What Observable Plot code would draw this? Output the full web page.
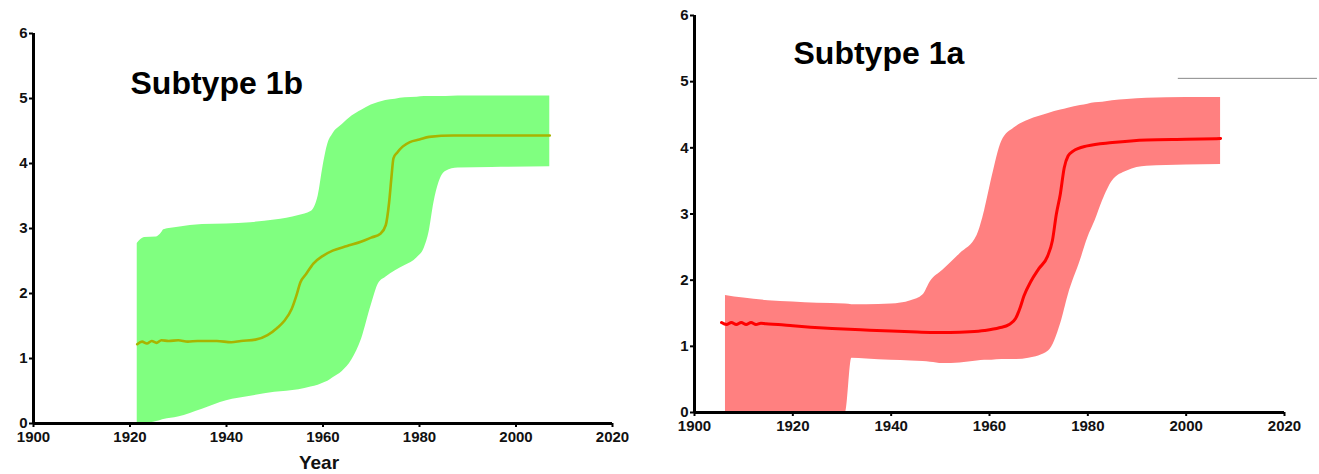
<!DOCTYPE html>
<html><head><meta charset="utf-8">
<script src="https://cdn.jsdelivr.net/npm/d3@7"></script>
<script src="https://cdn.jsdelivr.net/npm/@observablehq/plot@0.6"></script>
<style>
body{margin:0;background:#fff}
#wrap{position:relative;width:1319px;height:474px;overflow:hidden}
#left{position:absolute;left:0;top:0}
#right{position:absolute;left:660px;top:0}
</style>
</head><body><div id="wrap"><div id="left"></div><div id="right"></div></div>
<script>
const xTicks = [1900, 1920, 1940, 1960, 1980, 2000, 2020];
const yTicks = [0, 1, 2, 3, 4, 5, 6];

// Subtype 1b (green)
const bBandYears = [1921.5,1923,1925.5,1926.5,1927,1930,1935,1940,1945,1950,1955,1957.5,1959,1960,1961,1962,1964,1966,1968,1970,1971.5,1973,1975,1977,1979.5,1981,1982,1983,1984,1985.5,1988,1995,2007];
const bUpper     = [2.77,2.86,2.87,2.93,2.98,3.02,3.06,3.07,3.09,3.13,3.2,3.26,3.5,3.95,4.3,4.45,4.6,4.73,4.82,4.9,4.94,4.97,4.99,5.01,5.02,5.03,5.03,5.03,5.03,5.03,5.04,5.04,5.04];
const bLower     = [0,0,0.03,0.05,0.06,0.1,0.22,0.35,0.42,0.48,0.52,0.56,0.59,0.62,0.65,0.7,0.8,0.98,1.3,1.82,2.15,2.25,2.35,2.43,2.55,2.7,2.95,3.4,3.7,3.88,3.93,3.94,3.95];
const bMeanYears = [1921.5,1922.5,1923.5,1924.5,1925.5,1926.5,1928,1930,1932,1934,1938,1941,1943,1946,1948.5,1950.5,1952,1953.5,1954.5,1955.3,1956.5,1958,1960,1962,1965,1968,1970,1971.9,1973,1973.7,1974.2,1974.6,1975.4,1976.5,1978,1980,1982,1987,2007];
const bMean      = [1.22,1.26,1.23,1.27,1.24,1.28,1.27,1.28,1.26,1.27,1.27,1.25,1.27,1.29,1.36,1.47,1.58,1.76,1.97,2.17,2.3,2.46,2.58,2.66,2.73,2.8,2.86,2.92,3.05,3.4,3.8,4.08,4.17,4.26,4.33,4.37,4.41,4.43,4.43];

// Subtype 1a (red)
const aBandYears = [1906.3,1910,1915,1920,1925,1930.7,1932,1935,1940,1944,1946.5,1948,1950.5,1954,1957.5,1959,1960.5,1962.5,1965,1968,1972,1974.5,1976,1978.5,1980,1981.5,1983,1985,1988,1992,2000,2007];
const aUpper     = [1.77,1.73,1.69,1.67,1.65,1.64,1.63,1.63,1.64,1.69,1.78,1.98,2.15,2.4,2.68,3.05,3.55,4.1,4.3,4.42,4.52,4.57,4.6,4.64,4.66,4.68,4.69,4.71,4.73,4.75,4.76,4.76];
const aLower     = [0,0,0,0,0,0,0.82,0.81,0.79,0.78,0.77,0.76,0.74,0.75,0.78,0.79,0.79,0.8,0.8,0.82,0.93,1.35,1.77,2.3,2.64,2.9,3.2,3.5,3.65,3.72,3.74,3.75];
const aMeanYears = [1905.5,1906.5,1907.5,1908.5,1909.5,1910.5,1911.5,1912.5,1913.5,1914.5,1917,1920,1923.6,1928,1933.8,1940,1944,1948,1952,1956,1959,1962,1964,1965.3,1966.3,1967,1968.4,1970,1971.8,1972.8,1973.6,1974.4,1975.2,1976,1977,1979.9,1985,1992,2000,2007];
const aMean      = [1.36,1.33,1.36,1.33,1.36,1.33,1.36,1.33,1.35,1.34,1.33,1.31,1.29,1.27,1.25,1.23,1.22,1.21,1.21,1.22,1.24,1.28,1.33,1.42,1.6,1.76,1.98,2.17,2.36,2.6,3.0,3.3,3.7,3.88,3.95,4.03,4.08,4.12,4.13,4.14];

// stray grey rule at top right of the second panel
const strayY = [5.05];
const strayX = [1998.4, 2026.7];

const titles = ["Subtype 1b", "Subtype 1a"];
const xLabel = "Year";

function band(years, lo, hi) { return years.map((year, i) => ({year, lower: lo[i], upper: hi[i]})); }
function series(years, v) { return years.map((year, i) => ({year, value: v[i]})); }

function panel(o) {
  const marks = [
    Plot.areaY(o.band, {x: "year", y1: "lower", y2: "upper", fill: o.fill, curve: "monotone-x"}),
    Plot.line(o.mean, {x: "year", y: "value", stroke: o.stroke, strokeWidth: o.lineWidth, curve: "monotone-x"}),
    Plot.ruleY([0], {x1: 1900, x2: 2020, stroke: "#000", strokeWidth: 3}),
    Plot.ruleX([1900], {y1: 0, y2: 6, stroke: "#000", strokeWidth: 3}),
    Plot.axisX({ticks: xTicks, tickSize: 4, tickPadding: 4, tickFormat: d => String(d), stroke: "#000", strokeWidth: 2, fill: "#111", fontSize: 15, fontWeight: "bold", label: null}),
    Plot.axisY({ticks: yTicks, tickSize: 4, tickPadding: 2, tickFormat: d => String(d), stroke: "#000", strokeWidth: 2, fill: "#111", fontSize: 15, fontWeight: "bold", label: null}),
    Plot.text([o.title], {frameAnchor: "top-left", dx: o.titleDx, dy: o.titleDy, lineAnchor: "bottom", textAnchor: "start", fontSize: 32, fontWeight: "bold", fill: "#000", text: d => d})
  ];
  if (o.xLabel) marks.push(Plot.text([o.xLabel], {frameAnchor: "bottom", dx: -4, dy: 45, lineAnchor: "bottom", fontSize: 19, fontWeight: "bold", fill: "#111", text: d => d}));
  if (o.extra) marks.push(...o.extra);
  const svg = Plot.plot({
    width: o.width, height: 474,
    marginLeft: o.marginLeft, marginRight: o.marginRight, marginTop: o.marginTop, marginBottom: o.marginBottom,
    x: {domain: [1900, 2020]},
    y: {domain: [0, 6]},
    style: {fontFamily: "'Liberation Sans', Arial, sans-serif", background: "#fff", overflow: "visible"},
    marks
  });
  d3.select(svg).selectAll("text")
    .filter(function() { return /^\d+$/.test(this.textContent.trim()); })
    .style("font-size", "15px").style("font-weight", "bold");
  return svg;
}

document.getElementById("left").append(panel({
  band: band(bBandYears, bLower, bUpper), mean: series(bMeanYears, bMean),
  fill: "#80ff80", stroke: "#a8b400", lineWidth: 2.6, title: titles[0], titleDx: 97, titleDy: 60, xLabel,
  width: 650, marginLeft: 33, marginRight: 38, marginTop: 33, marginBottom: 51
}));

document.getElementById("right").append(panel({
  band: band(aBandYears, aLower, aUpper), mean: series(aMeanYears, aMean),
  fill: "#ff8080", stroke: "#ff0000", lineWidth: 3, title: titles[1], titleDx: 99, titleDy: 48,
  width: 659, marginLeft: 34, marginRight: 35, marginTop: 15, marginBottom: 62,
  extra: [Plot.ruleY(strayY, {x1: strayX[0], x2: strayX[1], stroke: "#888", strokeWidth: 1})]
}));
</script>
</body></html>
